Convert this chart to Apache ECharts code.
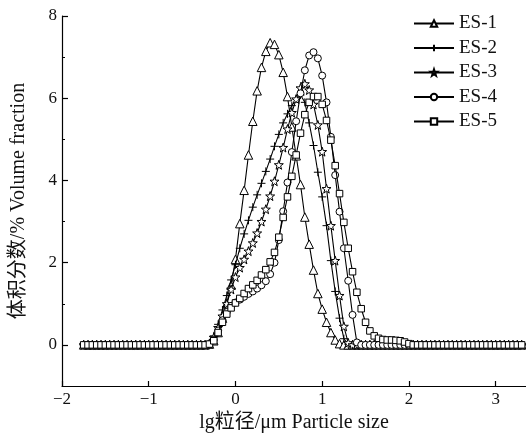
<!DOCTYPE html>
<html>
<head>
<meta charset="utf-8">
<script src="https://cdn.jsdelivr.net/npm/echarts@6/dist/echarts.min.js"></script>
<style>
html,body{margin:0;padding:0;background:#fff;}
#c{width:526px;height:438px;}
</style>
</head>
<body>
<div id="c"></div>
<script>
// lg particle size (µm)
var xs = [
-1.75,-1.7,-1.65,-1.6,-1.55,-1.5,-1.45,-1.4,-1.35,-1.3,
-1.25,-1.2,-1.15,-1.1,-1.05,-1,-0.95,-0.9,-0.85,-0.8,
-0.75,-0.7,-0.65,-0.6,-0.55,-0.5,-0.45,-0.4,-0.35,-0.3,
-0.25,-0.2,-0.15,-0.1,-0.05,0,0.05,0.1,0.15,0.2,
0.25,0.3,0.35,0.4,0.45,0.5,0.55,0.6,0.65,0.7,
0.75,0.8,0.85,0.9,0.95,1,1.05,1.1,1.15,1.2,
1.25,1.3,1.35,1.4,1.45,1.5,1.55,1.6,1.65,1.7,
1.75,1.8,1.85,1.9,1.95,2,2.05,2.1,2.15,2.2,
2.25,2.3,2.35,2.4,2.45,2.5,2.55,2.6,2.65,2.7,
2.75,2.8,2.85,2.9,2.95,3,3.05,3.1,3.15,3.2,
3.25,3.3];

var es1 = [
0,0,0,0,0,0,0,0,0,0,
0,0,0,0,0,0,0,0,0,0,
0,0,0,0,0,0,0,0,0,0.02,
0.1,0.3,0.65,1.0,1.45,2.08,2.95,3.76,4.62,5.44,
6.18,6.75,7.14,7.35,7.31,7.06,6.63,6.04,5.3,4.6,
3.9,3.11,2.45,1.82,1.25,0.87,0.55,0.3,0.12,0.03,
0,0,0,0,0,0,0,0,0,0,
0,0,0,0,0,0,0,0,0,0,
0,0,0,0,0,0,0,0,0,0,
0,0,0,0,0,0,0,0,0,0,
0,0];

var es2 = [
0,0,0,0,0,0,0,0,0,0,
0,0,0,0,0,0,0,0,0,0,
0,0,0,0,0,0,0,0,0,0.05,
0.22,0.5,0.85,1.2,1.58,1.95,2.35,2.7,3.03,3.35,
3.65,3.93,4.22,4.52,4.83,5.12,5.4,5.62,5.82,5.98,
6.08,5.9,5.4,4.85,4.2,3.6,2.9,2.05,1.3,0.65,
0.15,0.02,0,0,0,0,0,0,0,0,
0,0,0,0,0,0,0,0,0,0,
0,0,0,0,0,0,0,0,0,0,
0,0,0,0,0,0,0,0,0,0,
0,0];

var es3 = [
0,0,0,0,0,0,0,0,0,0,
0,0,0,0,0,0,0,0,0,0,
0,0,0,0,0,0,0,0,0,0.03,
0.18,0.42,0.7,1.0,1.35,1.65,1.88,2.08,2.28,2.48,
2.72,3.0,3.3,3.62,3.98,4.38,4.8,5.25,5.65,5.98,
6.25,6.35,6.2,5.85,5.35,4.7,3.8,2.9,2.05,1.2,
0.45,0.05,0,0,0,0,0,0,0,0,
0,0,0,0,0,0,0,0,0,0,
0,0,0,0,0,0,0,0,0,0,
0,0,0,0,0,0,0,0,0,0,
0,0];

var es4 = [
0,0,0,0,0,0,0,0,0,0,
0,0,0,0,0,0,0,0,0,0,
0,0,0,0,0,0,0,0,0,0.02,
0.12,0.35,0.6,0.8,0.95,1.03,1.1,1.17,1.24,1.3,
1.37,1.45,1.55,1.72,2.0,2.55,3.25,3.95,4.69,5.44,
6.12,6.68,7.04,7.12,6.97,6.55,5.9,5.06,4.13,3.24,
2.35,1.56,0.73,0.06,0,0,0,0,0,0,
0,0,0,0,0,0,0,0,0,0,
0,0,0,0,0,0,0,0,0,0,
0,0,0,0,0,0,0,0,0,0,
0,0];

var es5 = [
0,0,0,0,0,0,0,0,0,0,
0,0,0,0,0,0,0,0,0,0,
0,0,0,0,0,0,0,0,0,0.02,
0.1,0.3,0.55,0.75,0.9,1.02,1.13,1.25,1.37,1.46,
1.57,1.7,1.83,2.02,2.25,2.62,3.1,3.6,4.1,4.62,
5.15,5.6,5.9,6.04,6.04,5.85,5.46,4.98,4.36,3.68,
2.98,2.35,1.78,1.28,0.88,0.55,0.34,0.22,0.16,0.13,
0.12,0.12,0.11,0.1,0.07,0.03,0,0,0,0,
0,0,0,0,0,0,0,0,0,0,
0,0,0,0,0,0,0,0,0,0,
0,0];

var seriesNames = ['ES-1','ES-2','ES-3','ES-4','ES-5'];
var xTicks = [-2,-1,0,1,2,3];
var yTicks = [0,2,4,6,8];
var yMinorTicks = [1,3,5,7];

var STAR = 'path://M0,-10L2.35,-3.24L9.51,-3.09L3.8,1.24L5.88,8.09L0,4L-5.88,8.09L-3.8,1.24L-9.51,-3.09L-2.35,-3.24Z';
var PLUS = 'path://M5,0L5,10M0,5L10,5';
var symbols = ['triangle', PLUS, STAR, 'circle', 'rect'];
var sizes = [8.5, 8, 9, 7, 6.5];
var values = [es1, es2, es3, es4, es5];

var SERIF = "'Liberation Serif','Times New Roman','Noto Sans CJK SC',serif";

var series = seriesNames.map(function (name, i) {
  return {
    name: name,
    type: 'line',
    data: xs.map(function (x, k) { return [x, values[i][k]]; }),
    symbol: symbols[i],
    symbolSize: sizes[i],
    showSymbol: true,
    showAllSymbol: true,
    lineStyle: { color: '#000', width: 1.1 },
    itemStyle: { color: '#fff', borderColor: '#000', borderWidth: 1 },
    emphasis: { disabled: true },
    z: 2 + i
  };
});

var chart = echarts.init(document.getElementById('c'), null, { renderer: 'canvas' });
chart.setOption({
  animation: false,
  backgroundColor: '#fff',
  grid: { left: 62, right: 0, top: 16, bottom: 52, containLabel: false },
  legend: {
    orient: 'vertical',
    left: 408,
    top: 9,
    itemWidth: 40,
    itemHeight: 8,
    itemGap: 5.5,
    data: seriesNames,
    textStyle: { fontFamily: SERIF, fontSize: 19, color: '#111', lineHeight: 18 }
  },
  xAxis: {
    type: 'value',
    min: -2,
    max: 3.35,
    interval: 1,
    name: 'lg粒径/μm Particle size',
    nameLocation: 'middle',
    nameGap: 25,
    nameTextStyle: { fontFamily: SERIF, fontSize: 20, color: '#111', verticalAlign: 'top' },
    axisLine: { show: true, onZero: false, lineStyle: { color: '#000', width: 1.2 } },
    axisTick: { show: true, inside: true, length: 5, customValues: xTicks, lineStyle: { color: '#000', width: 1.2 } },
    axisLabel: {
      customValues: xTicks,
      fontFamily: SERIF, fontSize: 17, color: '#111', margin: 5,
      formatter: function (v) { return String(v).replace('-', '\u2212'); }
    },
    splitLine: { show: false }
  },
  yAxis: [{
    type: 'value',
    min: -1,
    max: 8,
    position: 'left',
    name: '体积分数/% Volume fraction',
    nameLocation: 'middle',
    nameGap: 33,
    nameTextStyle: { fontFamily: SERIF, fontSize: 20, color: '#111' },
    axisLine: { show: true, onZero: false, lineStyle: { color: '#000', width: 1.2 } },
    axisTick: { show: true, inside: true, length: 6, customValues: yTicks, lineStyle: { color: '#000', width: 1.2 } },
    axisLabel: {
      customValues: yTicks,
      fontFamily: SERIF, fontSize: 17, color: '#111', margin: 5
    },
    splitLine: { show: false }
  }, {
    type: 'value',
    min: -1,
    max: 8,
    position: 'left',
    axisLine: { show: false, onZero: false },
    axisTick: { show: true, inside: true, length: 3, customValues: yMinorTicks, lineStyle: { color: '#000', width: 1 } },
    axisLabel: { show: false },
    splitLine: { show: false }
  }],
  series: series
});
</script>
</body>
</html>
